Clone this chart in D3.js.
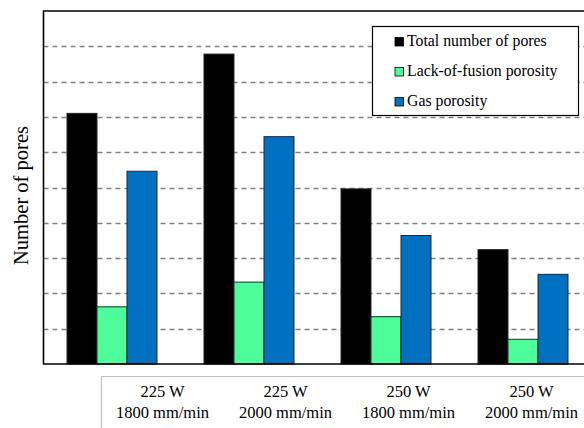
<!DOCTYPE html>
<html>
<head>
<meta charset="utf-8">
<script src="https://cdn.jsdelivr.net/npm/d3@7"></script>
<style>
  html, body { margin: 0; padding: 0; background: #fff; }
  text { font-family: "Liberation Serif", "Times New Roman", Times, "DejaVu Serif", serif; }
</style>
</head>
<body>
<svg id="chart" width="584" height="428"></svg>
<script>
// data (y axis has no labels, scale 0-500 with a grid every 50)
const groups = ["g1", "g2", "g3", "g4"];
const powerLabels = ["225 W", "225 W", "250 W", "250 W"];
const speedLabels = ["1800 mm/min", "2000 mm/min", "1800 mm/min", "2000 mm/min"];
const seriesNames = ["Total number of pores", "Lack-of-fusion porosity", "Gas porosity"];
const seriesColors = ["#000000", "#4dfd9a", "#0070c0"];
const totalPores = [355, 439, 248, 162];
const lackOfFusion = [81, 116, 67, 35];
const gasPorosity = [273, 322, 182, 127];
const yTicks = d3.range(50, 500, 50);

const FONT = "'Liberation Serif', 'Times New Roman', Times, serif";

const svg = d3.select("#chart");

const m = {left: 43.5, top: 11, bottom: 364, right: 591.5};

const x = d3.scaleBand()
    .domain(groups)
    .range([m.left, m.right])
    .paddingInner(0.343)
    .paddingOuter(0.1715);

const xs = d3.scaleBand()
    .domain(d3.range(seriesNames.length))
    .range([0, x.bandwidth()]);

const y = d3.scaleLinear()
    .domain([0, 500])
    .range([m.bottom, m.top]);

// dashed grid
svg.append("g")
  .selectAll("line")
  .data(yTicks)
  .join("line")
    .attr("x1", m.left)
    .attr("x2", m.right)
    .attr("y1", d => Math.round(y(d)) + 0.5)
    .attr("y2", d => Math.round(y(d)) + 0.5)
    .attr("stroke", "#7f7f7f")
    .attr("stroke-width", 1.3)
    .attr("stroke-dasharray", "5,4");

// bars
const table = groups.map((g, i) => ({
  g, vals: [totalPores[i], lackOfFusion[i], gasPorosity[i]]
}));

svg.append("g")
  .selectAll("g")
  .data(table)
  .join("g")
    .attr("transform", d => `translate(${x(d.g)},0)`)
  .selectAll("rect")
  .data(d => d.vals.map((v, k) => ({v, k})))
  .join("rect")
    .attr("x", d => xs(d.k))
    .attr("width", xs.bandwidth())
    .attr("y", d => y(d.v))
    .attr("height", d => y(0) - y(d.v))
    .attr("fill", d => seriesColors[d.k])
    .attr("stroke", "#262626")
    .attr("stroke-width", 1);

// plot frame (left, top, bottom)
svg.append("path")
    .attr("d", `M${m.right},${m.top}H${m.left}V${m.bottom}H${m.right}`)
    .attr("fill", "none")
    .attr("stroke", "#000")
    .attr("stroke-width", 1.6);

// y axis title
svg.append("text")
    .attr("transform", `translate(28,${(m.top + m.bottom) / 2 + 8}) rotate(-90)`)
    .attr("text-anchor", "middle")
    .attr("font-family", FONT)
    .attr("font-size", 20.5)
    .attr("fill", "#000")
    .text("Number of pores");

// category labels in a table-like strip under the chart
const xl = d3.scaleBand()
    .domain(groups)
    .range([101, 593]);

svg.append("path")
    .attr("d", `M101.5,428V376.5H584`)
    .attr("fill", "none")
    .attr("stroke", "#c0c0c0")
    .attr("stroke-width", 1.2);

const lab = svg.append("g")
    .attr("font-family", FONT)
    .attr("font-size", 16.5)
    .attr("fill", "#000")
    .attr("text-anchor", "middle");

lab.selectAll("text.pw")
  .data(groups)
  .join("text")
    .attr("class", "pw")
    .attr("x", d => xl(d) + xl.bandwidth() / 2)
    .attr("y", 397)
    .text((d, i) => powerLabels[i]);

lab.selectAll("text.sp")
  .data(groups)
  .join("text")
    .attr("class", "sp")
    .attr("x", d => xl(d) + xl.bandwidth() / 2)
    .attr("y", 418)
    .text((d, i) => speedLabels[i]);

// legend
const lg = svg.append("g");
lg.append("rect")
    .attr("x", 372.5)
    .attr("y", 26.5)
    .attr("width", 206)
    .attr("height", 89)
    .attr("fill", "#fff")
    .attr("stroke", "#000")
    .attr("stroke-width", 1.2);

const rows = lg.selectAll("g")
  .data(seriesNames)
  .join("g")
    .attr("transform", (d, i) => `translate(395,${46 + i * 30})`);

rows.append("rect")
    .attr("x", 0)
    .attr("y", -8.5)
    .attr("width", 8.5)
    .attr("height", 8.5)
    .attr("fill", (d, i) => seriesColors[i])
    .attr("stroke", "#000")
    .attr("stroke-width", 0.8);

rows.append("text")
    .attr("x", 12)
    .attr("y", 0)
    .attr("font-family", FONT)
    .attr("font-size", 15.8)
    .attr("fill", "#000")
    .text(d => d);
</script>
</body>
</html>
